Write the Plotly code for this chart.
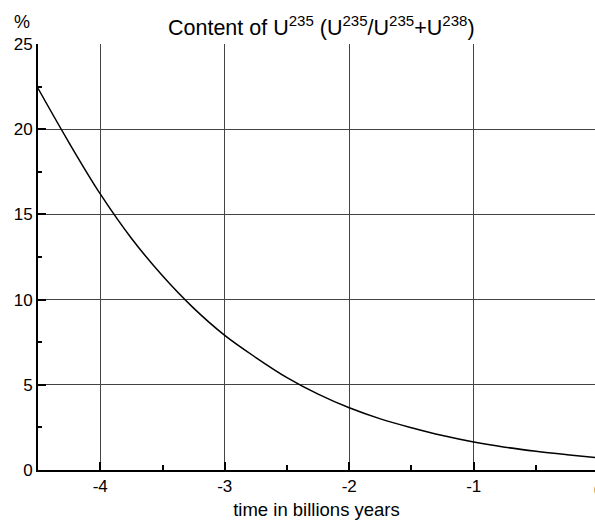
import plotly.graph_objects as go

time_gy = [-4.5, -4.25, -4.0, -3.75, -3.5, -3.25, -3.0, -2.75, -2.5, -2.25,
           -2.0, -1.75, -1.5, -1.25, -1.0, -0.75, -0.5, -0.25, 0.0]
u235_pct = [22.4, 19.2, 16.2, 13.6, 11.4, 9.5, 7.9, 6.6, 5.42, 4.45,
            3.65, 3.0, 2.48, 2.02, 1.64, 1.34, 1.1, 0.9, 0.72]

x_ticks = [-4, -3, -2, -1, 0]
y_ticks = [0, 5, 10, 15, 20, 25]

fig = go.Figure()
fig.add_trace(go.Scatter(x=time_gy, y=u235_pct, mode="lines",
                         line=dict(color="black", width=1.5, shape="spline"),
                         hoverinfo="skip", showlegend=False))

font = "Liberation Sans, Arial, sans-serif"
fig.update_layout(
    width=595, height=523,
    margin=dict(l=38, r=0, t=44, b=53),
    paper_bgcolor="white", plot_bgcolor="white",
    font=dict(family=font, color="black", size=17),
    title=dict(text="Content of U<sup>235</sup> (U<sup>235</sup>/U<sup>235</sup>+U<sup>238</sup>)",
               xref="container", yref="container",
               x=0.54, xanchor="center", y=0.947, yanchor="middle",
               font=dict(size=21.5, family=font, color="black")),
    xaxis=dict(range=[-4.5, -0.026], tickvals=x_ticks, ticktext=[str(v) for v in x_ticks],
               showgrid=True, gridcolor="#444", gridwidth=1,
               zeroline=False, showline=True, linecolor="black", linewidth=2,
               ticks="inside", ticklen=8, tickwidth=2, tickcolor="black",
               minor=dict(dtick=0.5, ticks="inside", ticklen=5, tickwidth=2,
                          tickcolor="black", showgrid=False),
               ticklabeloverflow="allow",
               title=dict(text="time in billions years", font=dict(size=18.5), standoff=8),
               tickfont=dict(size=17)),
    yaxis=dict(range=[0, 25], tickvals=y_ticks, ticktext=[str(v) for v in y_ticks],
               showgrid=True, gridcolor="#444", gridwidth=1,
               zeroline=False, showline=True, linecolor="black", linewidth=2,
               ticks="inside", ticklen=8, tickwidth=2, tickcolor="black",
               minor=dict(dtick=2.5, ticks="inside", ticklen=4, tickwidth=2,
                          tickcolor="black", showgrid=False),
               tickfont=dict(size=17)),
)
fig.add_annotation(text="%", xref="paper", yref="paper", x=-0.0287, y=1.052,
                   xanchor="center", yanchor="middle", showarrow=False,
                   font=dict(size=18, family=font, color="black"))
# the "0" tick label sits just past the right edge of the cropped chart
fig.add_annotation(text=str(x_ticks[-1]), xref="paper", yref="paper", x=1.0054, y=-0.02,
                   xanchor="center", yanchor="top", showarrow=False,
                   font=dict(size=17, family=font, color="black"))

fig.write_html("out.html", config={"displayModeBar": False},
               post_script="document.body.style.margin='0';document.body.style.overflow='hidden';")
